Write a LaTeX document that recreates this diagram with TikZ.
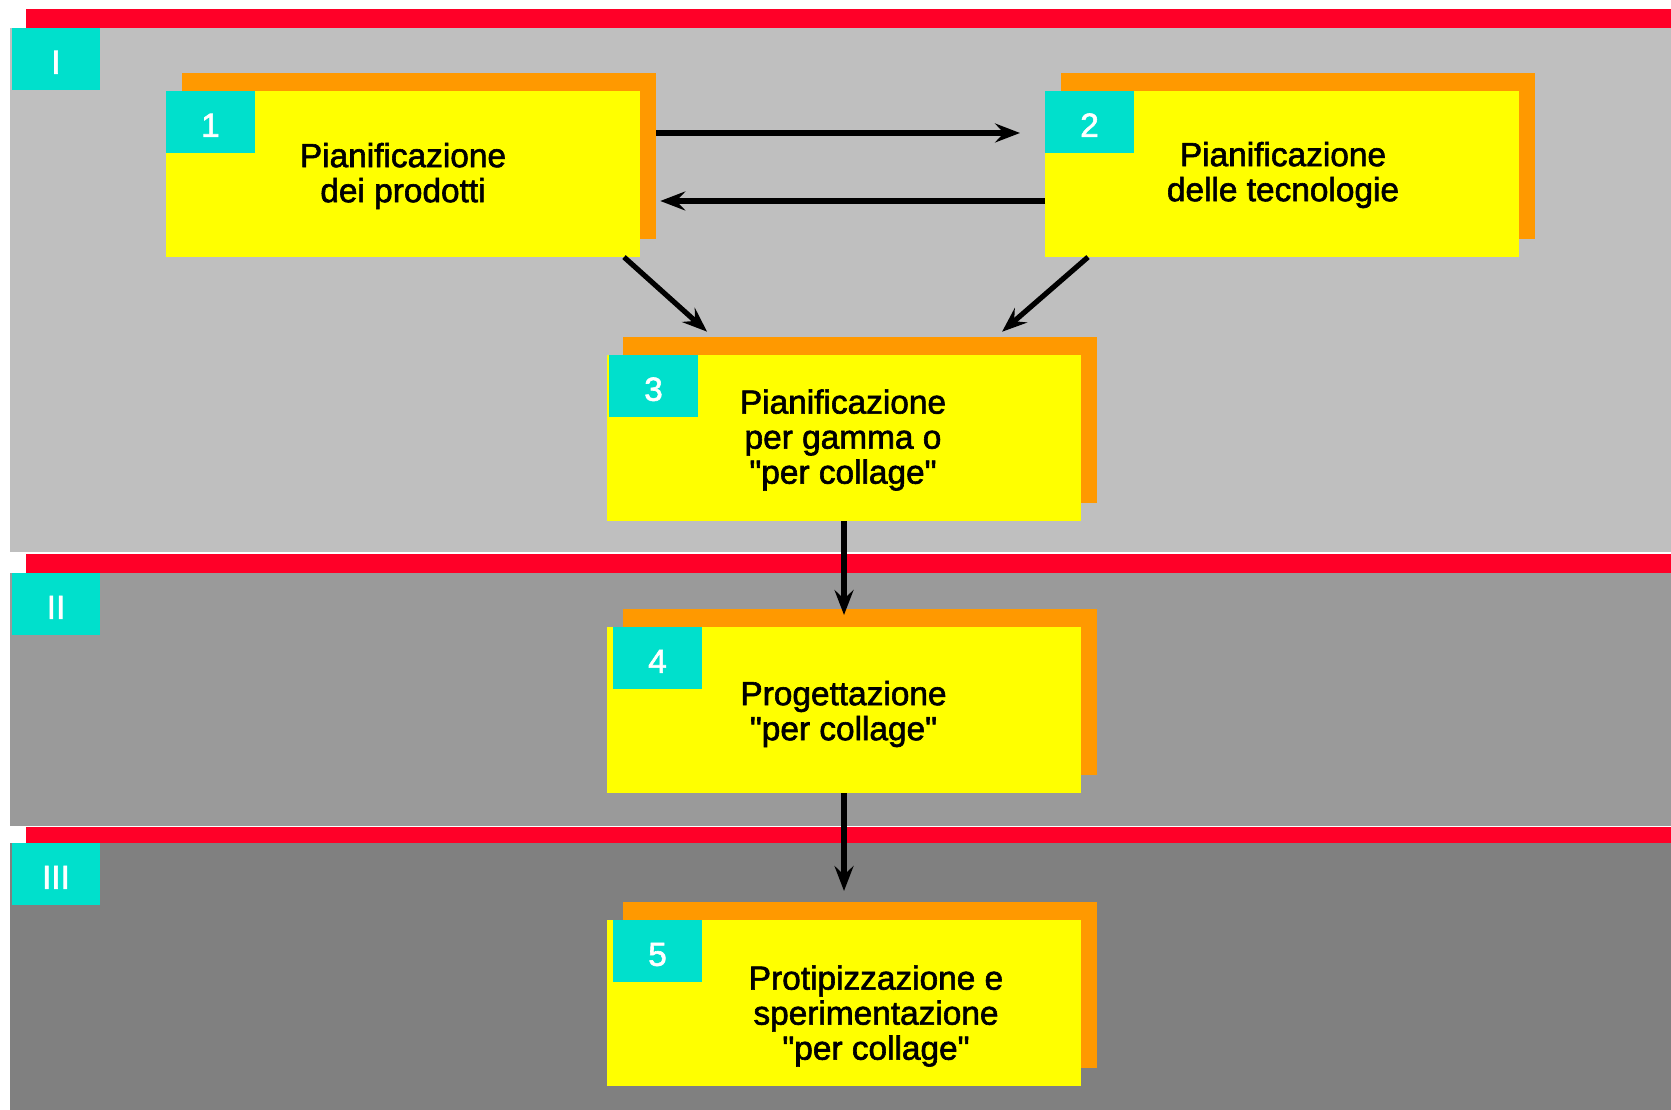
\documentclass[tikz,border=0pt]{standalone}
\usepackage{fontspec}
\setmainfont{Liberation Sans}[FakeBold=1.8, Ligatures=TeXOff]
\usetikzlibrary{arrows.meta}

\definecolor{barred}{RGB}{255,0,40}
\definecolor{bandA}{RGB}{191,191,191}
\definecolor{bandB}{RGB}{154,154,154}
\definecolor{bandC}{RGB}{128,128,128}
\definecolor{boxorange}{RGB}{255,153,0}
\definecolor{boxyellow}{RGB}{255,255,0}
\definecolor{tagteal}{RGB}{0,224,204}

\begin{document}
\begin{tikzpicture}[
  x=0.01cm, y=-0.01cm,
  every node/.style={inner sep=0pt, outer sep=0pt},
  shade/.style={fill=boxorange, anchor=north west, minimum width=4.74cm, minimum height=1.66cm},
  card/.style={fill=boxyellow, anchor=north west, minimum width=4.74cm, minimum height=1.66cm},
  tag/.style={fill=tagteal, anchor=north west, minimum width=0.89cm, minimum height=0.62cm,
              text=white, text height=8.4pt, text depth=0pt,
              font=\fontsize{9.5pt}{10pt}\selectfont},
  phase/.style={fill=tagteal, anchor=north west, minimum width=0.88cm, minimum height=0.62cm,
              text=white, text height=8.4pt, text depth=0pt,
              font=\fontsize{9.5pt}{10pt}\selectfont},
  label/.style={align=center, text=black, font=\fontsize{9.5pt}{9.96pt}\selectfont},
  arr/.style={line width=0.052cm, -{Stealth[length=0.25cm, width=0.19cm, inset=0.09cm]}}
]
\useasboundingbox (0,0) rectangle (1671,1110);

% phase bands with their red header bars
\fill[bandA] (9.5,28) rectangle (1671,552);
\fill[bandB] (9.5,573) rectangle (1671,826);
\fill[bandC] (9.5,843) rectangle (1671,1110);
\fill[barred] (25.5,9.5) rectangle (1671,28);
\fill[barred] (25.5,554) rectangle (1671,573);
\fill[barred] (25.5,826.5) rectangle (1671,843);

% phase labels
\node[phase] (pI)   at (12,28)  {I};
\node[phase] (pII)  at (12,573) {II};
\node[phase] (pIII) at (12,843) {III};

% orange back plates
\node[shade] (o1) at (182,73)  {};
\node[shade] (o2) at (1061,73) {};
\node[shade] (o3) at (623,337) {};
\node[shade] (o4) at (623,609) {};
\node[shade] (o5) at (623,902) {};

% yellow cards
\node[card] (b1) at (166,91)  {};
\node[card] (b2) at (1045,91) {};
\node[card] (b3) at (607,355) {};
\node[card] (b4) at (607,627) {};
\node[card] (b5) at (607,920) {};

% number tags
\node[tag] (t1) at (166,91)  {1};
\node[tag] (t2) at (1045,91) {2};
\node[tag] (t3) at (609,355) {3};
\node[tag] (t4) at (613,627) {4};
\node[tag] (t5) at (613,920) {5};

% card texts
\node[label] (x1) at (403,176)  {Pianificazione\\dei prodotti};
\node[label] (x2) at (1283,175) {Pianificazione\\delle tecnologie};
\node[label] (x3) at (843,440)  {Pianificazione\\per gamma o\\"per collage"};
\node[label] (x4) at (843.5,714) {Progettazione\\"per collage"};
\node[label] (x5) at (876,1016) {Protipizzazione e\\sperimentazione\\"per collage"};

% connectors
\draw[arr, shorten >=0.25cm] (o1.east |- 0,133) -- (b2.west |- 0,133);
\draw[arr, shorten >=0.04cm] (b2.west |- 0,201) -- (o1.east |- 0,201);
\draw[arr, shorten >=0.08cm] (b1.south -| 624,0) -- (o3.north -| 713,0);
\draw[arr, shorten >=0.08cm] (b2.south -| 1088,0) -- (o3.north -| 996,0);
\draw[arr, shorten >=-0.06cm] (b3.south -| 844,0) -- (o4.north -| 844,0);
\draw[arr, shorten >=0.11cm] (b4.south -| 844,0) -- (o5.north -| 844,0);
\end{tikzpicture}
\end{document}
